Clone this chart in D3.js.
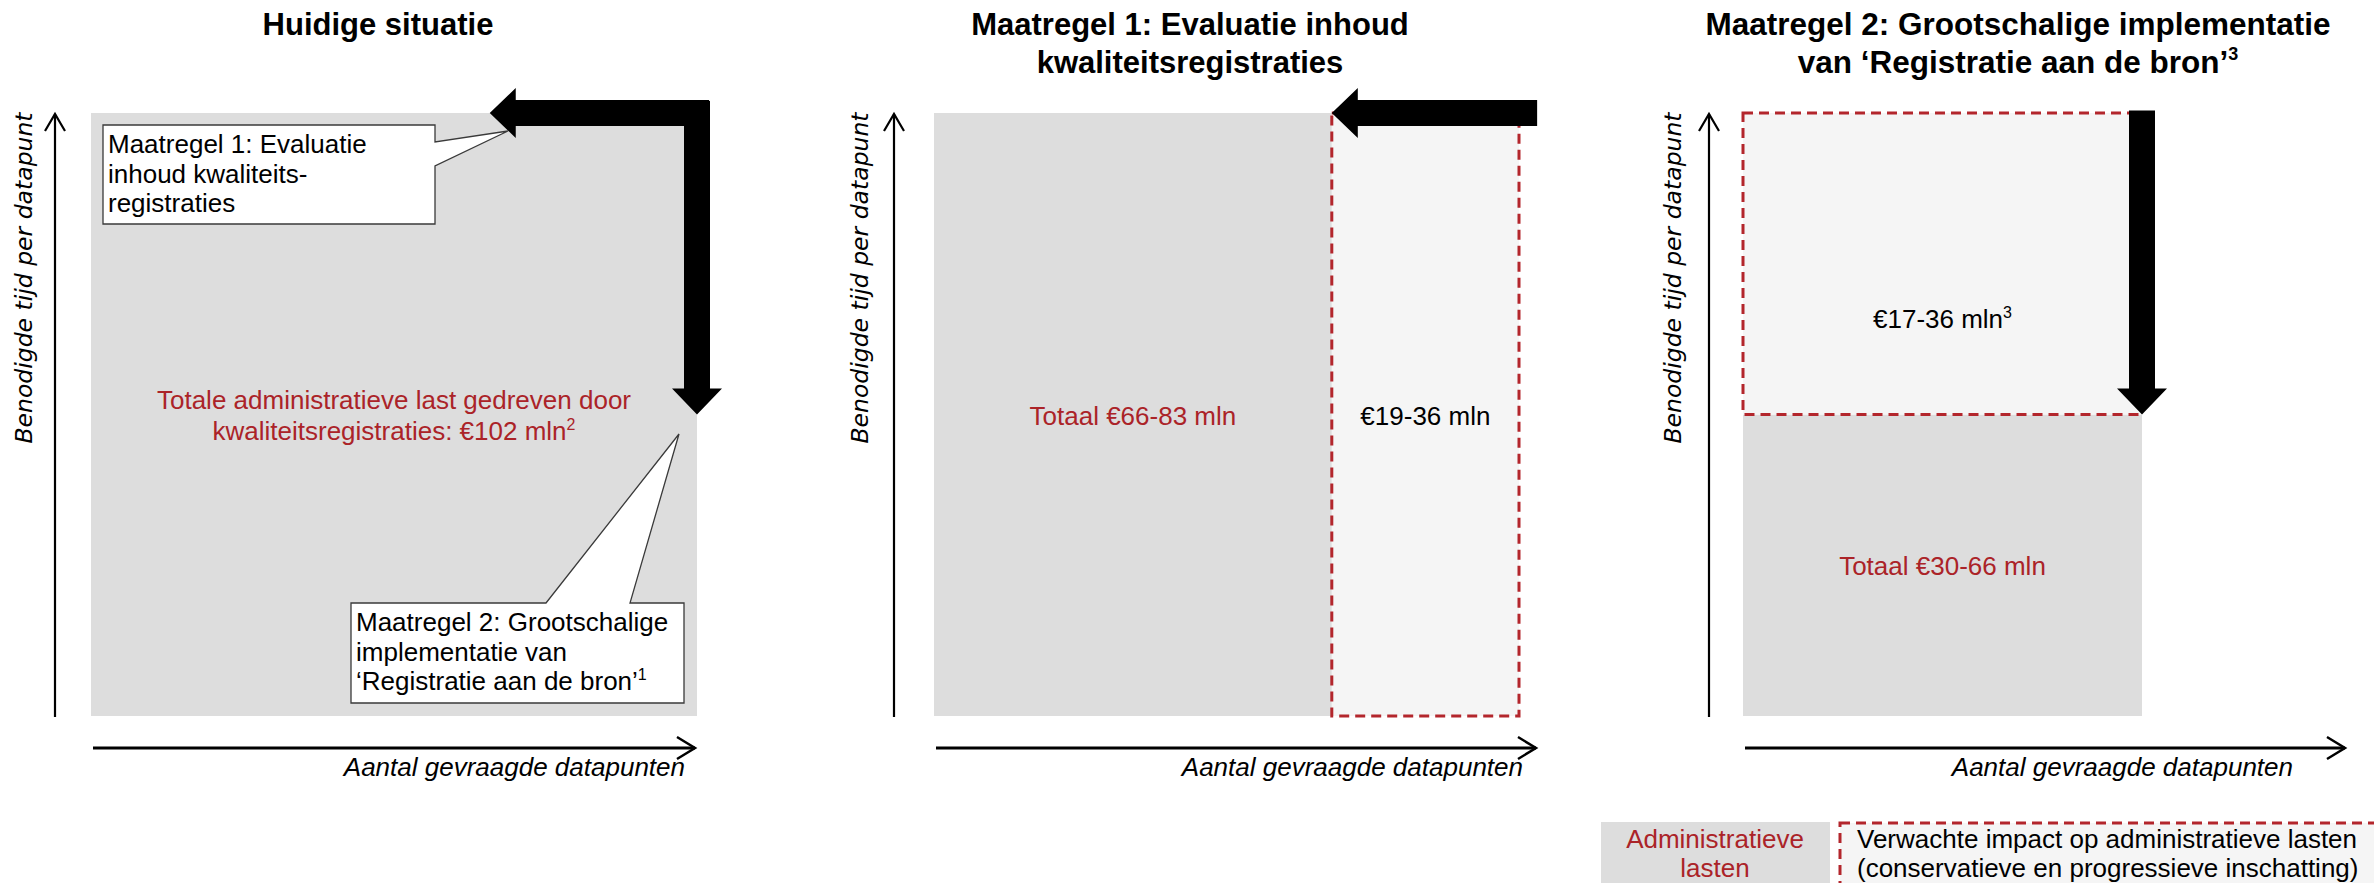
<!DOCTYPE html>
<html>
<head>
<meta charset="utf-8">
<script src="https://cdn.jsdelivr.net/npm/d3@7/dist/d3.min.js"></script>
<style>
  html, body { margin: 0; padding: 0; background: #ffffff; }
  svg { display: block; }
  text { font-family: "Liberation Sans", Arial, sans-serif; }
</style>
</head>
<body>
<svg id="chart" width="2374" height="883"></svg>
<script>
// ---------- DATA ----------
const panelTitles = [
  ["Huidige situatie"],
  ["Maatregel 1: Evaluatie inhoud", "kwaliteitsregistraties"],
  ["Maatregel 2: Grootschalige implementatie", "van \u2018Registratie aan de bron\u2019"]
];
const titleSup = ["", "", "3"];
const yAxisLabel = "Benodigde  tijd per datapunt";
const xAxisLabel = "Aantal gevraagde datapunten";

// administrative burden block per panel (share of datapoints [x0,x1], share of time [y0,y1])
const burdenX = [[0, 1], [0, 0.68], [0, 1]];
const burdenY = [[0, 1], [0, 1], [0, 0.5]];
// expected impact block per panel (null = none)
const impactX = [null, [0.68, 1], [0, 1]];
const impactY = [null, [0, 1], [0.5, 1]];
// reduction arrows: horizontal (from x -> to x at y) and vertical (from y -> to y at x)
const hArrows = [{p: 0, from: 1.02, to: 0.658, at: 1}, {p: 1, from: 1.031, to: 0.68, at: 1}];
const vArrows = [{p: 0, from: 1.02, to: 0.5, at: 1}, {p: 2, from: 1.004, to: 0.5, at: 1}];

const burdenLabels = [
  ["Totale administratieve last gedreven door", "kwaliteitsregistraties: \u20ac102 mln"],
  ["Totaal \u20ac66-83 mln"],
  ["Totaal \u20ac30-66 mln"]
];
const burdenSup = ["2", "", ""];
const impactLabels = [null, "\u20ac19-36 mln", "\u20ac17-36 mln"];
const impactSup = ["", "", "3"];

const callout1Lines = ["Maatregel 1: Evaluatie", "inhoud kwaliteits-", "registraties"];
const callout2Lines = ["Maatregel 2: Grootschalige", "implementatie van", "\u2018Registratie aan de bron\u2019"];
const callout2Sup = "1";

const legendBurden = ["Administratieve", "lasten"];
const legendImpact = ["Verwachte impact op administratieve lasten", "(conservatieve en progressieve inschatting)"];

// ---------- STYLE / LAYOUT ----------
const C = { gray: "#dddddd", light: "#f5f5f5", red: "#ab2328", dash: "#b3262c", black: "#000000" };
const FS = 26;
const layout = [
  { left: 91,   width: 606, yAxisX: 55,   yLabelX: 32,   titleX: 378,  xLabelX: 685,  axisLen: 604 },
  { left: 934,  width: 585, yAxisX: 894,  yLabelX: 868,  titleX: 1190, xLabelX: 1523, axisLen: 602 },
  { left: 1743, width: 399, yAxisX: 1709, yLabelX: 1681, titleX: 2018, xLabelX: 2293, axisLen: 602 }
];
const plotTop = 113, plotBottom = 716;

const svg = d3.select("#chart");

function addSup(sel, sup, size) {
  if (sup) sel.append("tspan").attr("font-size", size).attr("dy", -FS * 0.38).text(sup);
}

layout.forEach((L, p) => {
  const x = d3.scaleLinear().domain([0, 1]).range([L.left, L.left + L.width]);
  const y = d3.scaleLinear().domain([0, 1]).range([plotBottom, plotTop]);
  const g = svg.append("g");

  // title
  panelTitles[p].forEach((line, i) => {
    const t = g.append("text").attr("x", L.titleX).attr("y", 35 + i * 38)
      .attr("text-anchor", "middle").attr("font-size", p === 2 ? 31.5 : 31).attr("font-weight", "bold")
      .attr("fill", C.black).text(line);
    if (i === panelTitles[p].length - 1 && titleSup[p]) {
      t.append("tspan").attr("font-size", 18).attr("dy", -13).text(titleSup[p]);
    }
  });

  // burden block
  g.append("rect")
    .attr("x", x(burdenX[p][0])).attr("width", x(burdenX[p][1]) - x(burdenX[p][0]))
    .attr("y", y(burdenY[p][1])).attr("height", y(burdenY[p][0]) - y(burdenY[p][1]))
    .attr("fill", C.gray);

  // impact block
  if (impactX[p]) {
    g.append("rect")
      .attr("x", x(impactX[p][0])).attr("width", x(impactX[p][1]) - x(impactX[p][0]))
      .attr("y", y(impactY[p][1])).attr("height", y(impactY[p][0]) - y(impactY[p][1]))
      .attr("fill", C.light).attr("stroke", C.dash).attr("stroke-width", 3)
      .attr("stroke-dasharray", "10,6");
  }

  // axes
  const ax = g.append("g").attr("stroke", C.black).attr("fill", "none");
  ax.append("line").attr("x1", L.yAxisX).attr("x2", L.yAxisX).attr("y1", plotBottom + 1).attr("y2", plotTop + 1)
    .attr("stroke-width", 2.2);
  ax.append("polyline").attr("points", [[L.yAxisX - 10, plotTop + 18], [L.yAxisX, plotTop + 1], [L.yAxisX + 10, plotTop + 18]].join(" "))
    .attr("stroke-width", 2.2);
  const xa0 = L.left + 2, xa1 = L.left + L.axisLen, xy = 748;
  ax.append("line").attr("x1", xa0).attr("x2", xa1).attr("y1", xy).attr("y2", xy).attr("stroke-width", 3);
  ax.append("polyline").attr("points", [[xa1 - 18, xy - 11], [xa1, xy], [xa1 - 18, xy + 11]].join(" "))
    .attr("stroke-width", 2.5);

  // axis labels
  g.append("text").attr("transform", `translate(${L.yLabelX},278) rotate(-90)`)
    .attr("text-anchor", "middle").attr("font-size", 23.5).attr("font-style", "italic")
    .style("font-family", "'DejaVu Sans', Verdana, sans-serif").text(yAxisLabel);
  g.append("text").attr("x", L.xLabelX).attr("y", 776).attr("text-anchor", "end")
    .attr("font-size", FS).attr("font-style", "italic").text(xAxisLabel);

  // burden labels
  const bx = (x(burdenX[p][0]) + x(burdenX[p][1])) / 2;
  const by = (y(burdenY[p][0]) + y(burdenY[p][1])) / 2;
  const bl = burdenLabels[p];
  bl.forEach((line, i) => {
    const t = g.append("text").attr("x", bx).attr("y", by + 10 + (i - (bl.length - 1) / 2) * 31)
      .attr("text-anchor", "middle").attr("font-size", FS).attr("fill", C.red).text(line);
    if (i === bl.length - 1) addSup(t, burdenSup[p], 16);
  });

  // impact labels
  if (impactLabels[p]) {
    const ix = (x(impactX[p][0]) + x(impactX[p][1])) / 2;
    const iy = p === 1 ? by + 10 : y(impactY[p][0]) - 87;
    const t = g.append("text").attr("x", ix).attr("y", iy).attr("text-anchor", "middle")
      .attr("font-size", FS).attr("fill", C.black).text(impactLabels[p]);
    addSup(t, impactSup[p], 16);
  }

  // arrows
  const sh = 13, hh = 25, hl = 26;
  hArrows.filter(a => a.p === p).forEach(a => {
    const x0 = x(a.from), x1 = x(a.to), yy = y(a.at);
    g.append("path").attr("fill", C.black)
      .attr("d", `M${x0},${yy - sh}L${x1 + hl},${yy - sh}L${x1 + hl},${yy - hh}L${x1},${yy}L${x1 + hl},${yy + hh}L${x1 + hl},${yy + sh}L${x0},${yy + sh}Z`);
  });
  vArrows.filter(a => a.p === p).forEach(a => {
    const y0 = y(a.from), y1 = y(a.to), xx = x(a.at);
    g.append("path").attr("fill", C.black)
      .attr("d", `M${xx - sh},${y0}L${xx - sh},${y1 - hl}L${xx - hh},${y1 - hl}L${xx},${y1}L${xx + hh},${y1 - hl}L${xx + sh},${y1 - hl}L${xx + sh},${y0}Z`);
  });
});

// ---------- CALLOUTS (panel 1) ----------
function callout(d, lines, tx, ty, sup) {
  svg.append("path").attr("d", d).attr("fill", "#ffffff").attr("stroke", "#3a3a3a").attr("stroke-width", 1.3);
  lines.forEach((line, i) => {
    const t = svg.append("text").attr("x", tx).attr("y", ty + i * 29.5).attr("font-size", FS).attr("fill", C.black).text(line);
    if (sup && i === lines.length - 1) addSup(t, sup, 16);
  });
}
callout("M103,125L435,125L435,142L508,131L435,166L435,224L103,224Z", callout1Lines, 108, 153);
callout("M351,603L546,603L679,434L630,603L684,603L684,703L351,703Z", callout2Lines, 356, 631, callout2Sup);

// ---------- LEGEND ----------
svg.append("rect").attr("x", 1601).attr("y", 822).attr("width", 229).attr("height", 80).attr("fill", C.gray);
legendBurden.forEach((line, i) => {
  svg.append("text").attr("x", 1715).attr("y", 848 + i * 29).attr("text-anchor", "middle")
    .attr("font-size", FS).attr("fill", C.red).text(line);
});
svg.append("rect").attr("x", 1840).attr("y", 823).attr("width", 600).attr("height", 90)
  .attr("fill", C.light).attr("stroke", C.dash).attr("stroke-width", 3).attr("stroke-dasharray", "10,6");
legendImpact.forEach((line, i) => {
  svg.append("text").attr("x", 1857).attr("y", 848 + i * 29).attr("font-size", FS).attr("fill", C.black).text(line);
});
</script>
</body>
</html>
